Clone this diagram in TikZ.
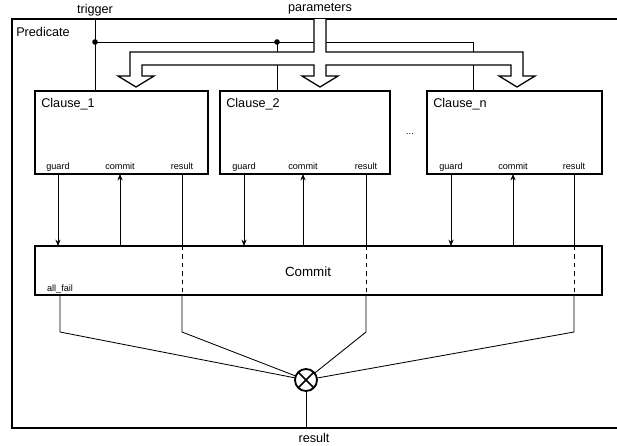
\documentclass[tikz,border=0pt]{standalone}
\usepackage{fontspec}
\setmainfont{Liberation Sans}
\usetikzlibrary{positioning,arrows.meta}
\tikzset{
  frame/.style={line width=2pt},
  clause/.style={draw, line width=1.5pt, minimum height=20.75mm, inner sep=0pt, outer sep=0pt},
  commitbox/.style={draw, line width=1.5pt, minimum width=141.75mm, minimum height=12.25mm, inner sep=0pt, outer sep=0pt},
  title/.style={font=\fontsize{9}{10}\selectfont, inner sep=0pt},
  port/.style={font=\fontsize{6.5}{7}\selectfont, inner sep=0pt, anchor=base},
  sig/.style={line width=0.6pt},
  sigarrow/.style={sig, -{Stealth[length=1.6mm, width=1.3mm]}},
  pipe/.style={line width=0.9pt, fill=white, line join=miter},
  junction/.style={circle, fill, inner sep=0pt, minimum size=1.4mm},
  mixer/.style={circle, draw, line width=1.3pt, minimum size=5.5mm, inner sep=0pt, outer sep=0pt}
}
\begin{document}
\begin{tikzpicture}[x=0.25mm, y=-0.25mm]
  \useasboundingbox (0,0) rectangle (617,445);
  % predicate frame, its right side is cut off by the page
  \draw[frame] (630,19) -- (12,19) -- (12,428) -- (630,428);
  \node[title, anchor=west] (pname) at (16,32) {Predicate};
  \node[title] (trig) at (95,10) {trigger};
  \node[title] (par) at (320,9) {parameters};

  % clauses
  \node[clause, minimum width=43.25mm] (c1) at (121.5,132.5) {};
  \node[clause, minimum width=42.5mm] (c2) at (305,132.5) {};
  \node[clause, minimum width=43.75mm] (cn) at (514.5,132.5) {};
  \node[title, below right=1.75mm and 1.5mm of c1.north west] (t1) {Clause\_1};
  \node[title, below right=1.75mm and 1.5mm of c2.north west] (t2) {Clause\_2};
  \node[title, below right=1.75mm and 1.5mm of cn.north west] (tn) {Clause\_n};
  \node[port] (more) at (410,134) {...};

  % trigger wiring
  \coordinate (tin) at (95,19);
  \coordinate (j1) at (95,42);
  \coordinate (j2) at (277,42);
  \coordinate (j3) at (473,42);
  \draw[sig] (tin) -- (c1.north -| tin);
  \draw[sig] (j1) -- (j3) -- (cn.north -| j3);
  \draw[sig] (j2) -- (c2.north -| j2);
  \node[junction] at (j1) {};
  \node[junction] at (j2) {};

  % parameters, hollow pipe with three heads
  \filldraw[pipe] (314,19) -- (314,52) -- (130,52) -- (130,76) -- (118,76) -- (136,87) -- (154,76)
    -- (142,76) -- (142,65) -- (314,65) -- (314,76) -- (302,76) -- (320,87) -- (338,76) -- (326,76)
    -- (326,65) -- (511,65) -- (511,76) -- (499,76) -- (517,87) -- (535,76) -- (523,76) -- (523,52)
    -- (326,52) -- (326,19);

  % commit block
  \node[commitbox] (cm) at (318.5,270.5) {};
  \node[font=\fontsize{9.5}{11}\selectfont, inner sep=0pt] (cmname) at (308,272) {Commit};
  \node[port] (af) at (60,291) {all\_fail};

  % result mixer
  \node[mixer] (mux) at (306,380) {};
  \draw[line width=1.1pt] (mux.45) -- (mux.225) (mux.135) -- (mux.315);
  \coordinate (rout) at (306,428);
  \draw[sig] (mux.south) -- (rout);
  \node[title] (res) at (314,438) {result};

  % ports of Clause_1
  \node[port] (g1) at (58,169) {guard};
  \node[port] (m1) at (120,169) {commit};
  \node[port] (r1) at (182,169) {result};
  \draw[sigarrow] (g1 |- c1.south) -- (g1 |- cm.north);
  \draw[sigarrow] (m1 |- cm.north) -- (m1 |- c1.south);
  \draw[sig] (r1 |- c1.south) -- (r1 |- cm.north);
  \draw[sig, dashed] (r1 |- cm.north) -- (r1 |- cm.south);
  \draw[sig] (r1 |- cm.south) -- ++(0,37) -- (mux);

  % ports of Clause_2
  \node[port] (g2) at (244,169) {guard};
  \node[port] (m2) at (303,169) {commit};
  \node[port] (r2) at (366,169) {result};
  \draw[sigarrow] (g2 |- c2.south) -- (g2 |- cm.north);
  \draw[sigarrow] (m2 |- cm.north) -- (m2 |- c2.south);
  \draw[sig] (r2 |- c2.south) -- (r2 |- cm.north);
  \draw[sig, dashed] (r2 |- cm.north) -- (r2 |- cm.south);
  \draw[sig] (r2 |- cm.south) -- ++(0,37) -- (mux);

  % ports of Clause_n
  \node[port] (gn) at (451,169) {guard};
  \node[port] (mn) at (513,169) {commit};
  \node[port] (rn) at (574,169) {result};
  \draw[sigarrow] (gn |- cn.south) -- (gn |- cm.north);
  \draw[sigarrow] (mn |- cm.north) -- (mn |- cn.south);
  \draw[sig] (rn |- cn.south) -- (rn |- cm.north);
  \draw[sig, dashed] (rn |- cm.north) -- (rn |- cm.south);
  \draw[sig] (rn |- cm.south) -- ++(0,37) -- (mux);

  % all clauses failed
  \draw[sig] (af |- cm.south) -- ++(0,37) -- (mux);
\end{tikzpicture}
\end{document}
